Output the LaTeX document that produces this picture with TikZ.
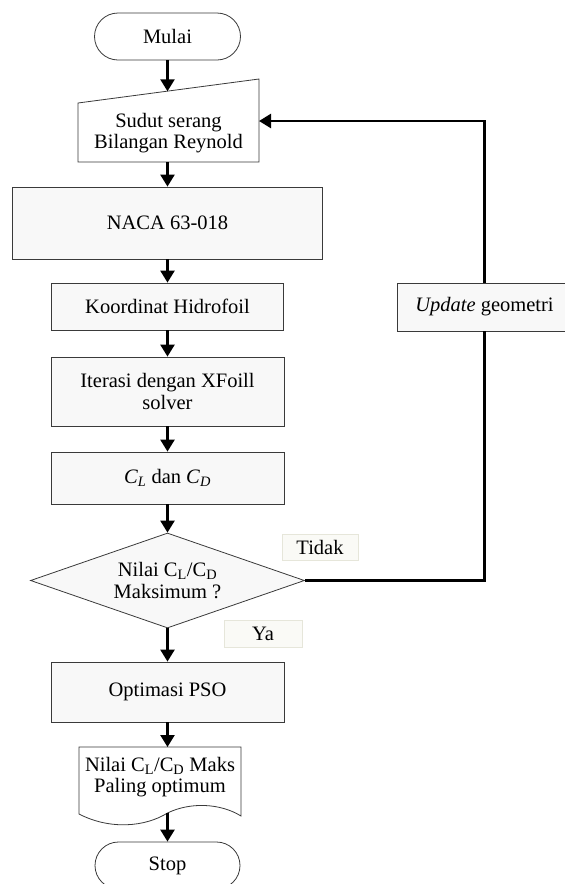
\documentclass[tikz,border=0pt]{standalone}
\usepackage{fontspec}
\setmainfont{Liberation Serif}
\usetikzlibrary{arrows.meta,shapes.geometric}
\definecolor{boxfill}{HTML}{F8F8F8}
\definecolor{boxline}{HTML}{3A3A3A}
\definecolor{lblfill}{HTML}{FAFAF6}
\definecolor{lblline}{HTML}{E6E6DA}
\begin{document}
\begin{tikzpicture}[x=1pt,y=-1pt,
  every node/.style={font=\fontsize{20.5}{21.5}\selectfont, align=center, inner sep=0pt},
  proc/.style={draw=boxline, line width=0.8pt, fill=boxfill, rectangle},
  term/.style={draw=boxline, line width=0.8pt, fill=white, rectangle, rounded corners=23.5pt, minimum width=146, minimum height=47},
  shapeline/.style={draw=boxline, line width=0.8pt},
  lbl/.style={draw=lblline, line width=0.6pt, fill=lblfill, rectangle},
  flow/.style={line width=2.4pt, -{Triangle[length=12pt,width=14pt]}},
  plain/.style={line width=2.4pt}
]
\useasboundingbox (0,0) rectangle (565,884);

% Start
\node[term] (mulai) at (167.5,36.5) {Mulai};

% Manual input
\path[shapeline, fill=white] (78,103) -- (259,79) -- (259,162) -- (78,162) -- cycle;
\node (input) at (168.5,133) {Sudut serang\\Bilangan Reynold};
\coordinate (inTop) at (167.5,91.3);
\coordinate (inBot) at (167.5,162);
\coordinate (inR) at (259,121);

% Processes
\node[proc, minimum width=310, minimum height=72] (naca) at (167.5,223) {NACA 63-018};
\node[proc, minimum width=232, minimum height=47] (koord) at (167.5,306.5) {Koordinat Hidrofoil};
\node[proc, minimum width=233, minimum height=69] (iter) at (167.5,391.5) {Iterasi dengan XFoill\\solver};
\node[proc, minimum width=233, minimum height=52] (cl) at (167.5,478) {\textit{C}\textsubscript{\textit{L}} dan \textit{C}\textsubscript{\textit{D}}};

% Decision
\node[draw=boxline, line width=0.8pt, fill=boxfill, shape=diamond, shape aspect=2.88,
      minimum width=274, minimum height=95] (dia) at (167.5,580.5)
      {Nilai C\textsubscript{L}/C\textsubscript{D}\\Maksimum ?};

\node[proc, minimum width=233, minimum height=60] (opt) at (167.5,692) {Optimasi PSO};

% Document
\path[shapeline, fill=white] (79,747) -- (241,747) -- (241,816)
  .. controls (220,803) and (190,802) .. (167.5,813)
  .. controls (145,827) and (110,830) .. (79,814) -- cycle;
\node (doc) at (160,777) {Nilai C\textsubscript{L}/C\textsubscript{D} Maks\\Paling optimum};
\coordinate (docTop) at (167.5,747);
\coordinate (docBot) at (167.5,813);

% Stop
\node[term, minimum width=145] (stop) at (167.5,865.5) {Stop};

% Update
\node[proc, minimum width=175, minimum height=48] (upd) at (484.5,307) {\textit{Update} geometri};

% Labels
\node[lbl, minimum width=76, minimum height=26] (tidak) at (320,547) {Tidak};
\node[lbl, minimum width=78, minimum height=27] (ya) at (263,633.5) {Ya};

% Connectors
\draw[flow] (mulai.south) -- (inTop);
\draw[flow] (inBot) -- (naca.north);
\draw[flow] (naca.south) -- (koord.north);
\draw[flow] (koord.south) -- (iter.north);
\draw[flow] (iter.south) -- (cl.north);
\draw[flow] (cl.south) -- (dia.north);
\draw[flow] (dia.south) -- (opt.north);
\draw[flow] (opt.south) -- (docTop);
\draw[flow] (docBot) -- (stop.north);
\draw[plain] (dia.east) -| (upd.south);
\draw[flow] (upd.north) |- (inR);
\end{tikzpicture}
\end{document}
